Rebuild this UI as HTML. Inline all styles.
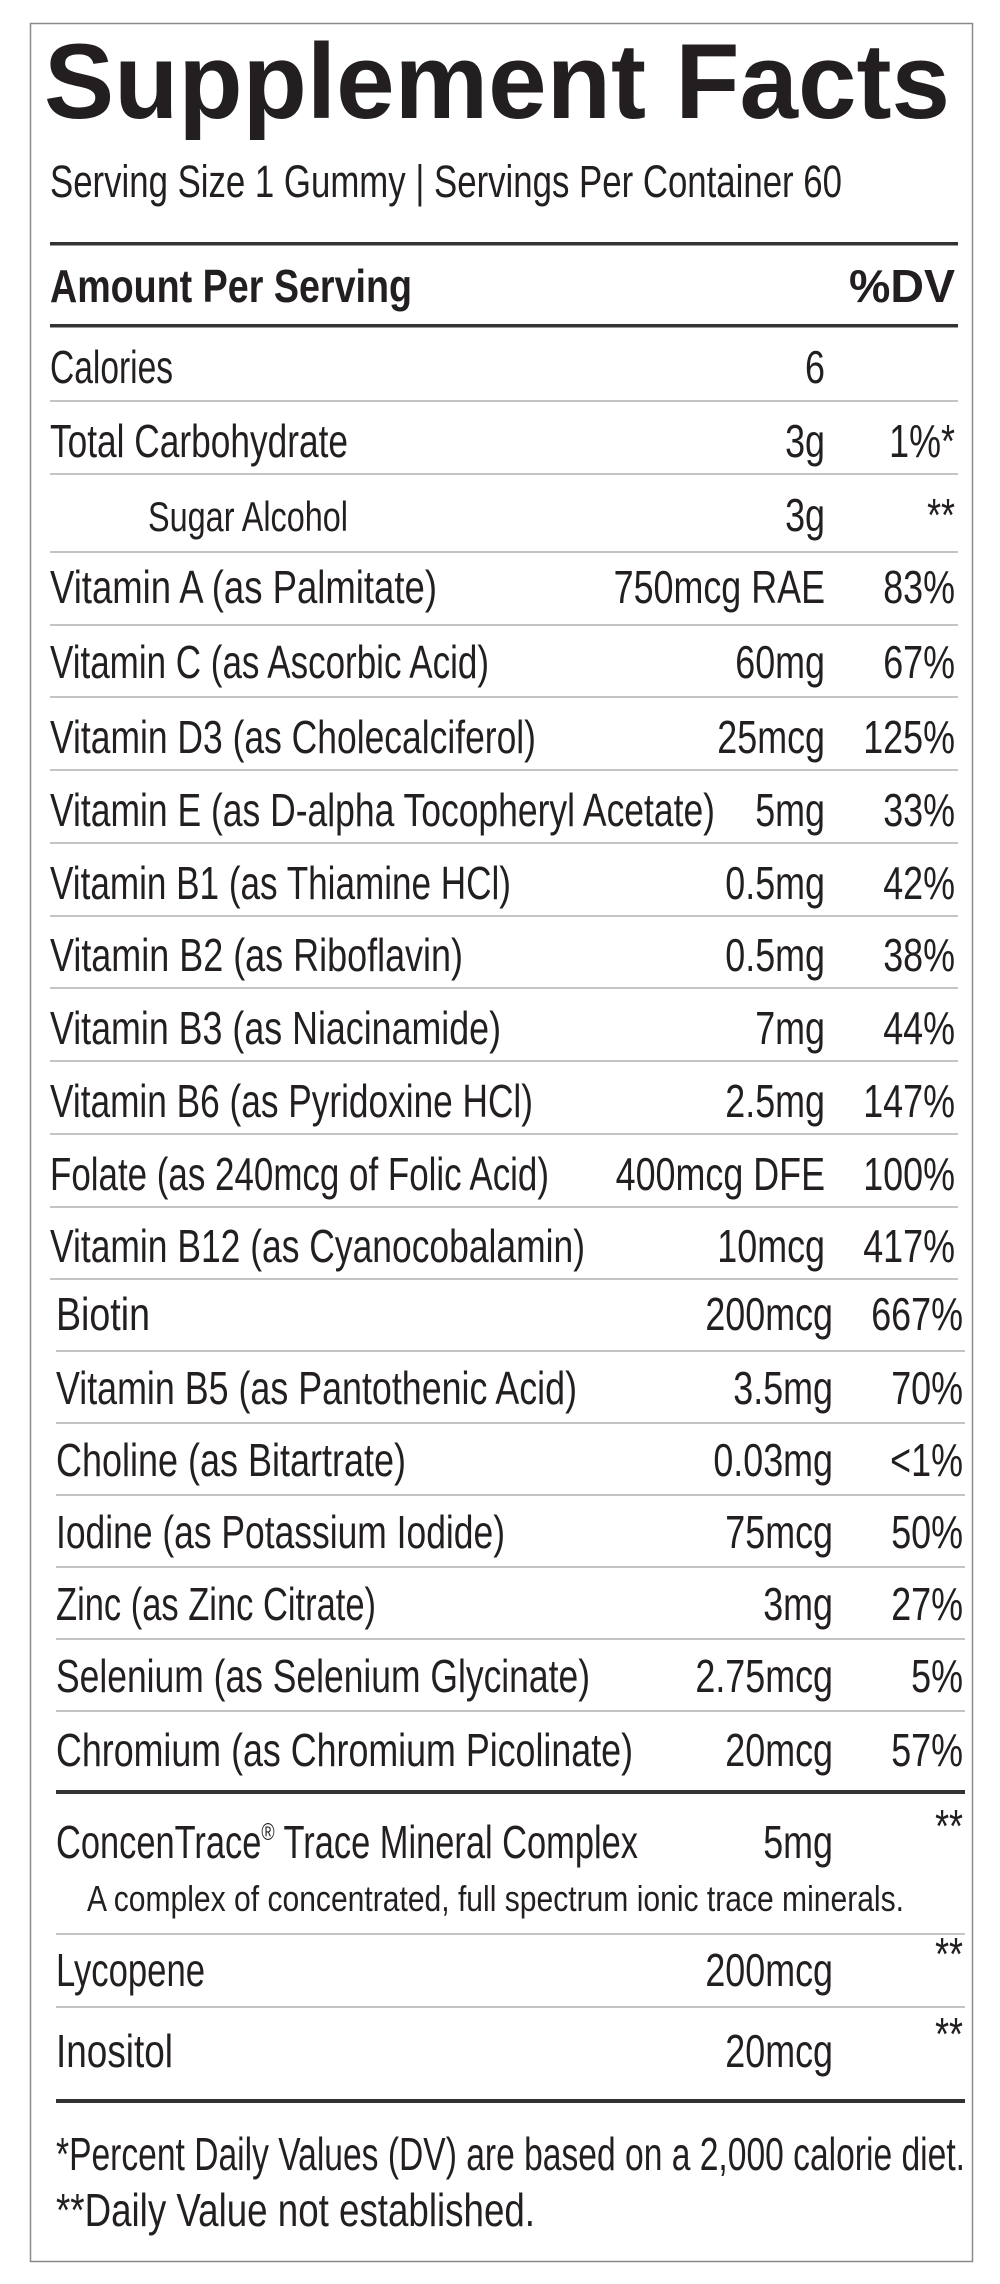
<!DOCTYPE html>
<html><head><meta charset="utf-8"><style>
html,body{margin:0;padding:0;background:#fff;}
svg{display:block;}
text{font-family:"Liberation Sans Narrow","Liberation Sans",sans-serif;fill:#231f20;}
</style></head><body>
<svg width="1000" height="2284" viewBox="0 0 1000 2284" xmlns="http://www.w3.org/2000/svg">
<rect x="30.5" y="23.5" width="942" height="2238" fill="#fff" stroke="#8a8a8a" stroke-width="1.5"/>
<text x="44" y="118" font-weight="bold" font-size="107" textLength="906" lengthAdjust="spacingAndGlyphs" style="font-family:'Liberation Sans',sans-serif">Supplement Facts</text>
<text x="50" y="197" font-size="45" textLength="792" lengthAdjust="spacingAndGlyphs">Serving Size 1 Gummy | Servings Per Container 60</text>
<rect x="50" y="242" width="908" height="3.5" fill="#333"/>
<text x="50" y="302" font-size="46" font-weight="bold" textLength="362" lengthAdjust="spacingAndGlyphs">Amount Per Serving</text>
<text x="955" y="302" font-size="46" font-weight="bold" textLength="106" lengthAdjust="spacingAndGlyphs" text-anchor="end">%DV</text>
<rect x="50" y="324" width="908" height="3.5" fill="#333"/>
<g fill="#c4c4c4">
<rect x="50" y="400" width="908" height="2"/>
<rect x="50" y="473" width="908" height="2"/>
<rect x="50" y="551" width="908" height="2"/>
<rect x="50" y="624" width="908" height="2"/>
<rect x="50" y="696" width="908" height="2"/>
<rect x="50" y="769" width="908" height="2"/>
<rect x="50" y="842" width="908" height="2"/>
<rect x="50" y="915" width="908" height="2"/>
<rect x="50" y="987" width="908" height="2"/>
<rect x="50" y="1060" width="908" height="2"/>
<rect x="50" y="1133" width="908" height="2"/>
<rect x="50" y="1206" width="908" height="2"/>
<rect x="50" y="1278" width="908" height="2"/>
<rect x="56" y="1350" width="909" height="2"/>
<rect x="56" y="1422" width="909" height="2"/>
<rect x="56" y="1494" width="909" height="2"/>
<rect x="56" y="1566" width="909" height="2"/>
<rect x="56" y="1638" width="909" height="2"/>
<rect x="56" y="1710" width="909" height="2"/>
<rect x="56" y="1933" width="909" height="2"/>
<rect x="56" y="2006" width="909" height="2"/>
</g>
<rect x="56" y="1790" width="909" height="4" fill="#333"/>
<rect x="56" y="2099" width="909" height="4" fill="#333"/>
<g font-size="46">
<text x="50" y="383" textLength="123" lengthAdjust="spacingAndGlyphs">Calories</text>
<text x="50" y="457" textLength="298" lengthAdjust="spacingAndGlyphs">Total Carbohydrate</text>
<text x="148" y="531" font-size="42" textLength="200" lengthAdjust="spacingAndGlyphs">Sugar Alcohol</text>
<text x="50" y="603" textLength="387" lengthAdjust="spacingAndGlyphs">Vitamin A (as Palmitate)</text>
<text x="50" y="678" textLength="439" lengthAdjust="spacingAndGlyphs">Vitamin C (as Ascorbic Acid)</text>
<text x="50" y="753" textLength="486" lengthAdjust="spacingAndGlyphs">Vitamin D3 (as Cholecalciferol)</text>
<text x="50" y="826" textLength="665" lengthAdjust="spacingAndGlyphs">Vitamin E (as D-alpha Tocopheryl Acetate)</text>
<text x="50" y="899" textLength="461" lengthAdjust="spacingAndGlyphs">Vitamin B1 (as Thiamine HCl)</text>
<text x="50" y="971" textLength="413" lengthAdjust="spacingAndGlyphs">Vitamin B2 (as Riboflavin)</text>
<text x="50" y="1044" textLength="451" lengthAdjust="spacingAndGlyphs">Vitamin B3 (as Niacinamide)</text>
<text x="50" y="1117" textLength="483" lengthAdjust="spacingAndGlyphs">Vitamin B6 (as Pyridoxine HCl)</text>
<text x="50" y="1190" textLength="499" lengthAdjust="spacingAndGlyphs">Folate (as 240mcg of Folic Acid)</text>
<text x="50" y="1262" textLength="535" lengthAdjust="spacingAndGlyphs">Vitamin B12 (as Cyanocobalamin)</text>
<text x="56" y="1330" textLength="94" lengthAdjust="spacingAndGlyphs">Biotin</text>
<text x="56" y="1404" textLength="521" lengthAdjust="spacingAndGlyphs">Vitamin B5 (as Pantothenic Acid)</text>
<text x="56" y="1476" textLength="350" lengthAdjust="spacingAndGlyphs">Choline (as Bitartrate)</text>
<text x="56" y="1548" textLength="449" lengthAdjust="spacingAndGlyphs">Iodine (as Potassium Iodide)</text>
<text x="56" y="1620" textLength="320" lengthAdjust="spacingAndGlyphs">Zinc (as Zinc Citrate)</text>
<text x="56" y="1692" textLength="534" lengthAdjust="spacingAndGlyphs">Selenium (as Selenium Glycinate)</text>
<text x="56" y="1766" textLength="577" lengthAdjust="spacingAndGlyphs">Chromium (as Chromium Picolinate)</text>
<text x="56" y="1858" textLength="582" lengthAdjust="spacingAndGlyphs">ConcenTrace<tspan font-size="24" dy="-18">®</tspan><tspan dy="18"> Trace Mineral Complex</tspan></text>
<text x="87" y="1911" font-size="36" textLength="817" lengthAdjust="spacingAndGlyphs">A complex of concentrated, full spectrum ionic trace minerals.</text>
<text x="56" y="1986" textLength="149" lengthAdjust="spacingAndGlyphs">Lycopene</text>
<text x="56" y="2067" textLength="117" lengthAdjust="spacingAndGlyphs">Inositol</text>
<text x="56" y="2170" textLength="909" lengthAdjust="spacingAndGlyphs">*Percent Daily Values (DV) are based on a 2,000 calorie diet.</text>
<text x="56" y="2226" textLength="479" lengthAdjust="spacingAndGlyphs">**Daily Value not established.</text>
</g>
<g font-size="46" text-anchor="end">
<g transform="translate(825,383) scale(0.78,1)"><text>6</text></g>
<g transform="translate(825,457) scale(0.78,1)"><text>3g</text></g>
<g transform="translate(955,457) scale(0.78,1)"><text>1%*</text></g>
<g transform="translate(825,531) scale(0.78,1)"><text>3g</text></g>
<g transform="translate(955,531) scale(0.78,1)"><text>**</text></g>
<g transform="translate(825,603) scale(0.78,1)"><text>750mcg RAE</text></g>
<g transform="translate(955,603) scale(0.78,1)"><text>83%</text></g>
<g transform="translate(825,678) scale(0.78,1)"><text>60mg</text></g>
<g transform="translate(955,678) scale(0.78,1)"><text>67%</text></g>
<g transform="translate(825,753) scale(0.78,1)"><text>25mcg</text></g>
<g transform="translate(955,753) scale(0.78,1)"><text>125%</text></g>
<g transform="translate(825,826) scale(0.78,1)"><text>5mg</text></g>
<g transform="translate(955,826) scale(0.78,1)"><text>33%</text></g>
<g transform="translate(825,899) scale(0.78,1)"><text>0.5mg</text></g>
<g transform="translate(955,899) scale(0.78,1)"><text>42%</text></g>
<g transform="translate(825,971) scale(0.78,1)"><text>0.5mg</text></g>
<g transform="translate(955,971) scale(0.78,1)"><text>38%</text></g>
<g transform="translate(825,1044) scale(0.78,1)"><text>7mg</text></g>
<g transform="translate(955,1044) scale(0.78,1)"><text>44%</text></g>
<g transform="translate(825,1117) scale(0.78,1)"><text>2.5mg</text></g>
<g transform="translate(955,1117) scale(0.78,1)"><text>147%</text></g>
<g transform="translate(825,1190) scale(0.78,1)"><text>400mcg DFE</text></g>
<g transform="translate(955,1190) scale(0.78,1)"><text>100%</text></g>
<g transform="translate(825,1262) scale(0.78,1)"><text>10mcg</text></g>
<g transform="translate(955,1262) scale(0.78,1)"><text>417%</text></g>
<g transform="translate(833,1330) scale(0.78,1)"><text>200mcg</text></g>
<g transform="translate(963,1330) scale(0.78,1)"><text>667%</text></g>
<g transform="translate(833,1404) scale(0.78,1)"><text>3.5mg</text></g>
<g transform="translate(963,1404) scale(0.78,1)"><text>70%</text></g>
<g transform="translate(833,1476) scale(0.78,1)"><text>0.03mg</text></g>
<g transform="translate(963,1476) scale(0.78,1)"><text>&lt;1%</text></g>
<g transform="translate(833,1548) scale(0.78,1)"><text>75mcg</text></g>
<g transform="translate(963,1548) scale(0.78,1)"><text>50%</text></g>
<g transform="translate(833,1620) scale(0.78,1)"><text>3mg</text></g>
<g transform="translate(963,1620) scale(0.78,1)"><text>27%</text></g>
<g transform="translate(833,1692) scale(0.78,1)"><text>2.75mcg</text></g>
<g transform="translate(963,1692) scale(0.78,1)"><text>5%</text></g>
<g transform="translate(833,1766) scale(0.78,1)"><text>20mcg</text></g>
<g transform="translate(963,1766) scale(0.78,1)"><text>57%</text></g>
<g transform="translate(833,1858) scale(0.78,1)"><text>5mg</text></g>
<g transform="translate(963,1842) scale(0.78,1)"><text>**</text></g>
<g transform="translate(833,1986) scale(0.78,1)"><text>200mcg</text></g>
<g transform="translate(963,1970) scale(0.78,1)"><text>**</text></g>
<g transform="translate(833,2067) scale(0.78,1)"><text>20mcg</text></g>
<g transform="translate(963,2050) scale(0.78,1)"><text>**</text></g>
</g>
</svg>
</body></html>
